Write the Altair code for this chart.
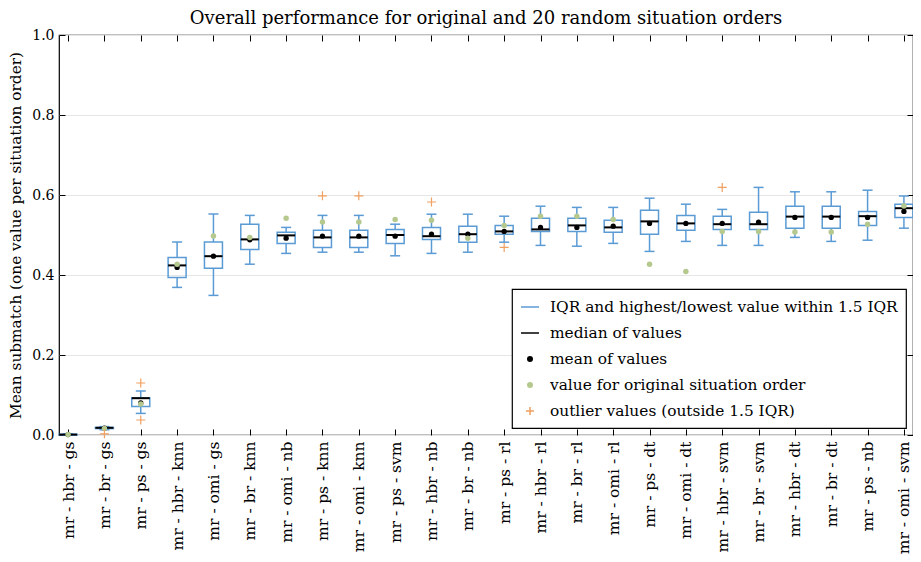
import altair as alt
import pandas as pd

names = ["mr - hbr - gs", "mr - br - gs", "mr - ps - gs", "mr - hbr - knn", "mr - omi - gs",
         "mr - br - knn", "mr - omi - nb", "mr - ps - knn", "mr - omi - knn", "mr - ps - svm",
         "mr - hbr - nb", "mr - br - nb", "mr - ps - rl", "mr - hbr - rl", "mr - br - rl",
         "mr - omi - rl", "mr - ps - dt", "mr - omi - dt", "mr - hbr - svm", "mr - br - svm",
         "mr - hbr - dt", "mr - br - dt", "mr - ps - nb", "mr - omi - svm"]
whisker_low = [0.000, 0.013, 0.054, 0.369, 0.349, 0.427, 0.454, 0.457, 0.457, 0.448, 0.454, 0.457,
               0.482, 0.474, 0.472, 0.479, 0.459, 0.484, 0.474, 0.474, 0.494, 0.484, 0.487, 0.517]
q1 = [0.000, 0.016, 0.071, 0.394, 0.417, 0.464, 0.479, 0.469, 0.469, 0.479, 0.489, 0.482,
      0.502, 0.509, 0.509, 0.507, 0.502, 0.512, 0.514, 0.514, 0.517, 0.517, 0.524, 0.544]
median = [0.001, 0.018, 0.092, 0.424, 0.447, 0.489, 0.499, 0.494, 0.494, 0.500, 0.497, 0.502,
          0.509, 0.514, 0.524, 0.519, 0.534, 0.529, 0.527, 0.527, 0.546, 0.546, 0.547, 0.567]
q3 = [0.002, 0.019, 0.093, 0.444, 0.4825, 0.527, 0.507, 0.512, 0.512, 0.514, 0.519, 0.522,
      0.524, 0.542, 0.542, 0.537, 0.562, 0.549, 0.547, 0.557, 0.572, 0.572, 0.559, 0.577]
whisker_high = [0.003, 0.021, 0.110, 0.4825, 0.5525, 0.549, 0.519, 0.549, 0.549, 0.527, 0.552, 0.552,
                0.547, 0.572, 0.569, 0.569, 0.592, 0.577, 0.564, 0.619, 0.608, 0.608, 0.612, 0.5975]
mean = [0.001, 0.017, 0.080, 0.419, 0.447, 0.488, 0.492, 0.497, 0.497, 0.497, 0.502, 0.502,
        0.509, 0.519, 0.519, 0.522, 0.529, 0.529, 0.529, 0.532, 0.544, 0.544, 0.544, 0.559]
original = [0.001, 0.016, 0.0775, 0.427, 0.4975, 0.494, 0.542, 0.5325, 0.5325, 0.539, 0.537, 0.492,
            0.524, 0.547, 0.547, 0.539, 0.427, 0.409, 0.509, 0.509, 0.5075, 0.5075, 0.527, 0.5725]
outlier_names = ["mr - br - gs", "mr - ps - gs", "mr - ps - gs", "mr - ps - knn", "mr - omi - knn",
                 "mr - hbr - nb", "mr - ps - rl", "mr - hbr - svm"]
outlier_values = [0.003, 0.130, 0.0375, 0.598, 0.598, 0.5825, 0.469, 0.619]
legend_labels = ["IQR and highest/lowest value within 1.5 IQR", "median of values", "mean of values",
                 "value for original situation order", "outlier values (outside 1.5 IQR)"]
y_ticks = [0.0, 0.2, 0.4, 0.6, 0.8, 1.0]

BLUE = "#5b9bd5"
GREEN = "#b5c98e"
ORANGE = "#f0a060"
FONT = "DejaVu Serif"
PLUS = "M-1,0L1,0M0,-1L0,1"

df = pd.DataFrame(dict(name=names, wlo=whisker_low, q1=q1, med=median, q3=q3,
                       whi=whisker_high, mean=mean, orig=original))
out_df = pd.DataFrame(dict(name=outlier_names, value=outlier_values))
leg_df = pd.DataFrame(dict(label=legend_labels))

xscale = alt.Scale(type="point", domain=names, padding=0.25)
yscale = alt.Scale(domain=[0, 1], nice=False)

x_axis = alt.Axis(orient="bottom", title=None, labelAngle=270, labelFont=FONT, labelFontSize=15.5,
                  labelColor="black", labelPadding=6, tickSize=6, tickColor="black",
                  offset=-6, domain=False, grid=False, labelLimit=300)
y_axis = alt.Axis(orient="left", values=y_ticks, format=".1f", labelFont=FONT, labelFontSize=14,
                  labelColor="black", labelPadding=5, tickSize=6, tickColor="black", offset=-6,
                  domain=False, grid=True, gridColor="#e6e6e6",
                  title="Mean submatch (one value per situation order)", titleFont=FONT,
                  titleFontSize=15.3, titleFontWeight="normal", titleColor="black", titlePadding=8)
top_axis = alt.Axis(orient="top", title=None, labels=False, tickSize=6, tickColor="black",
                    offset=-6, domain=False, grid=False)
right_axis = alt.Axis(orient="right", title=None, values=y_ticks, labels=False, tickSize=6,
                      tickColor="black", offset=-6, domain=False, grid=False)

base = alt.Chart(df)
X = alt.X("name:N", scale=xscale, axis=None)

whisk_lo = base.mark_rule(color=BLUE, strokeWidth=1.5).encode(
    x=alt.X("name:N", scale=xscale, axis=x_axis),
    y=alt.Y("wlo:Q", scale=yscale, axis=y_axis), y2="q1:Q")
whisk_hi = base.mark_rule(color=BLUE, strokeWidth=1.5).encode(
    x=X, y=alt.Y("q3:Q", scale=yscale, axis=None), y2="whi:Q")
cap_hi = base.mark_tick(color=BLUE, size=10, thickness=1.5, opacity=1).encode(
    x=X, y=alt.Y("whi:Q", scale=yscale, axis=None))
cap_lo = base.mark_tick(color=BLUE, size=10, thickness=1.5, opacity=1).encode(
    x=X, y=alt.Y("wlo:Q", scale=yscale, axis=None))
boxes = base.mark_bar(fill="transparent", stroke=BLUE, strokeWidth=1.5, size=18).encode(
    x=X, y=alt.Y("q1:Q", scale=yscale, axis=None), y2="q3:Q")
medians = base.mark_tick(color="black", size=18, thickness=2, opacity=1).encode(
    x=X, y=alt.Y("med:Q", scale=yscale, axis=None))
means = base.mark_circle(color="black", size=28, opacity=1).encode(
    x=X, y=alt.Y("mean:Q", scale=yscale, axis=None))
origs = base.mark_circle(color=GREEN, size=30, opacity=1).encode(
    x=X, y=alt.Y("orig:Q", scale=yscale, axis=None))
outliers = alt.Chart(out_df).mark_point(shape=PLUS, filled=False, color=ORANGE, size=81,
                                        strokeWidth=1.2, opacity=1).encode(
    x=X, y=alt.Y("value:Q", scale=yscale, axis=None))
frame_ticks = base.mark_tick(opacity=0).encode(
    x=alt.X("name:N", scale=xscale, axis=top_axis),
    y=alt.Y("med:Q", scale=yscale, axis=right_axis))

leg_shapes = ["M-1,0L1,0", "M-1,0L1,0",
              "M-0.25,0A0.25,0.25 0 1,0 0.25,0A0.25,0.25 0 1,0 -0.25,0",
              "M-0.25,0A0.25,0.25 0 1,0 0.25,0A0.25,0.25 0 1,0 -0.25,0",
              "M-0.45,0L0.45,0M0,-0.45L0,0.45"]
leg_fill = ["transparent", "transparent", "black", GREEN, "transparent"]
leg_stroke = [BLUE, "black", "black", GREEN, ORANGE]
legend_layer = alt.Chart(leg_df).mark_point(opacity=0).encode(
    shape=alt.Shape("label:N", scale=alt.Scale(domain=legend_labels, range=leg_shapes),
                    legend=alt.Legend(title=None)),
    fill=alt.Fill("label:N", scale=alt.Scale(domain=legend_labels, range=leg_fill),
                  legend=alt.Legend(title=None)),
    stroke=alt.Stroke("label:N", scale=alt.Scale(domain=legend_labels, range=leg_stroke),
                      legend=alt.Legend(title=None)),
)

chart = alt.layer(
    whisk_lo, whisk_hi, cap_hi, cap_lo, boxes, medians, means, origs, outliers, frame_ticks,
    legend_layer
).resolve_axis(x="independent", y="independent").properties(
    width=854, height=400,
    title=alt.TitleParams("Overall performance for original and 20 random situation orders",
                          font=FONT, fontSize=18, fontWeight="normal", color="black", offset=0),
    autosize=alt.AutoSizeParams(type="none"),
    padding={"left": 51, "top": 27, "right": 0, "bottom": 119},
).configure_view(stroke="black", strokeWidth=1.2).configure_legend(
    orient="bottom-right", offset=7, padding=8, strokeColor="black", strokeWidth=1.2,
    fillColor="white", cornerRadius=0, labelFont=FONT, labelFontSize=15.4, labelColor="black",
    labelLimit=500, labelOffset=10, symbolSize=324, symbolStrokeWidth=1.5, symbolOpacity=1,
    rowPadding=7,
)

chart.save("out.html", embed_options={"renderer": "svg", "actions": False})
